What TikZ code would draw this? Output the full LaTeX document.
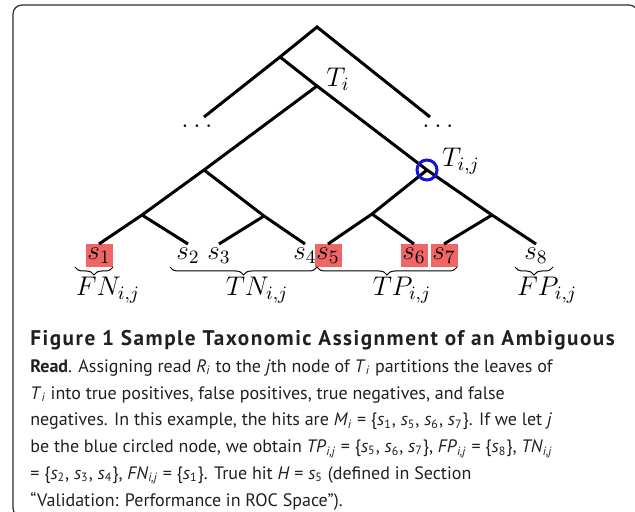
\documentclass[tikz,border=0pt]{standalone}
\usepackage{fix-cm}
\usepackage{fontspec}
\setsansfont{PT Sans}
\usepackage{tikz}
\usetikzlibrary{calc, positioning, decorations.pathreplacing}
\definecolor{HitRed}{RGB}{240, 102, 102}
\definecolor{RingBlue}{RGB}{20, 20, 215}
\definecolor{FrameGray}{RGB}{45, 45, 45}
\definecolor{CaptionInk}{RGB}{35, 31, 32}
\newcommand{\cs}[1]{\textit{s}\textsubscript{#1}}
\newcommand{\csub}[2]{\textit{#1}\textsubscript{\textit{#2}}}
\newcommand{\captitle}[1]{{\fontsize{10.6}{13.4}\selectfont\addfontfeatures{LetterSpace=7}\textbf{#1}}}

\begin{document}
\begin{tikzpicture}[
        x=0.5pt, y=-0.5pt,
        branchline/.style={line width=1.5pt, black},
        leafbox/.style={anchor=north, inner sep=0pt, minimum width=13.5pt, minimum height=11.5pt, font=\fontsize{13.5}{15}\selectfont},
        hitbox/.style={leafbox, fill=HitRed},
        setlabel/.style={inner sep=0pt, font=\fontsize{13.5}{15}\selectfont},
        setbrace/.style={decorate, decoration={brace, mirror, amplitude=4pt}, line width=0.5pt},
        caption/.style={anchor=north west, inner sep=0pt, align=left, text=CaptionInk, font=\sffamily\fontsize{9}{13.4}\selectfont}
      ]
        \useasboundingbox (0,0) rectangle (635,512);
        \clip (0,0) rectangle (635,512);

        % Frame
        \draw [FrameGray, line width=0.6pt, rounded corners=4.5pt] (13,5) rectangle (638,517);

        % Inner nodes
        \coordinate (root) at (317,27);
        \coordinate (upper) at (280,57);
        \coordinate (dotsL) at (204,117);
        \coordinate (dotsR) at (430,117);
        \coordinate (Ti) at (317,86);
        \coordinate (Tij) at (427,170);
        \coordinate (lft) at (204,170);
        \coordinate (lftL) at (142,215);
        \coordinate (lftR) at (264,216);
        \coordinate (rgtL) at (372,214);
        \coordinate (rgtR) at (492,215);

        % Leaves
        \node [hitbox] (s1) at (99,244) {$s_1$};
        \node [leafbox] (s2) at (188,244) {$s_2$};
        \node [leafbox] (s3) at (219,244) {$s_3$};
        \node [leafbox] (s4) at (305,244) {$s_4$};
        \node [hitbox] (s5) at (328,244) {$s_5$};
        \node [hitbox] (s6) at (414,244) {$s_6$};
        \node [hitbox] (s7) at (444,244) {$s_7$};
        \node [leafbox] (s8) at (536,244) {$s_8$};

        % Branches
        \draw [branchline] (dotsL) -- (upper) -- (root) -- (dotsR);
        \draw [branchline] (upper) -- (Ti) -- (Tij) -- (rgtR) -- (s8.north);
        \draw [branchline] (Ti) -- (lft) -- (lftL) -- (s1.north);
        \draw [branchline] (lftL) -- (s2.north);
        \draw [branchline] (lft) -- (lftR) -- (s4.north);
        \draw [branchline] (lftR) -- (s3.north);
        \draw [branchline] (Tij) -- (rgtL) -- (s5.north);
        \draw [branchline] (rgtL) -- (s6.north);
        \draw [branchline] (rgtR) -- (s7.north);

        % Chosen node
        \node [draw=RingBlue, line width=1.5pt, circle, minimum size=10pt, inner sep=0pt] (ring) at (Tij) {};

        % Labels
        \node [setlabel] (TiText) at (338,79) {$T_i$};
        \node [setlabel] (TijText) at (461,161) {$T_{i,j}$};
        \node [setlabel] (dotsLText) at (197,126) {$\ldots$};
        \node [setlabel] (dotsRText) at (438,126) {$\ldots$};

        % Partition braces
        \draw [setbrace] (75,267) -- (113,267);
        \draw [setbrace] (170,267) -- (317,267);
        \draw [setbrace] (317,267) -- (457,267);
        \draw [setbrace] (515,267) -- (553,267);
        \node [setlabel] (FN) at (108,290) {$FN_{i,j}$};
        \node [setlabel] (TN) at (257,290) {$TN_{i,j}$};
        \node [setlabel] (TP) at (402,290) {$TP_{i,j}$};
        \node [setlabel] (FP) at (547,290) {$FP_{i,j}$};

        % Caption
        \node [caption] (cap) at (30,330) {\captitle{Figure 1 Sample Taxonomic Assignment of an Ambiguous}\\
          \textbf{Read}. Assigning read \csub{R}{i} to the \textit{j}th node of \csub{T}{i} partitions the leaves of\\
          \csub{T}{i} into true positives, false positives, true negatives, and false\\
          negatives. In this example, the hits are \csub{M}{i} = \{\cs{1}, \cs{5}, \cs{6}, \cs{7}\}. If we let \textit{j}\\
          be the blue circled node, we obtain \csub{TP}{i,j} = \{\cs{5}, \cs{6}, \cs{7}\}, \csub{FP}{i,j} = \{\cs{8}\}, \csub{TN}{i,j}\\
          = \{\cs{2}, \cs{3}, \cs{4}\}, \csub{FN}{i,j} = \{\cs{1}\}. True hit \textit{H} = \cs{5} (defined in Section\\
          “Validation: Performance in ROC Space”).};
      \end{tikzpicture}
\end{document}
